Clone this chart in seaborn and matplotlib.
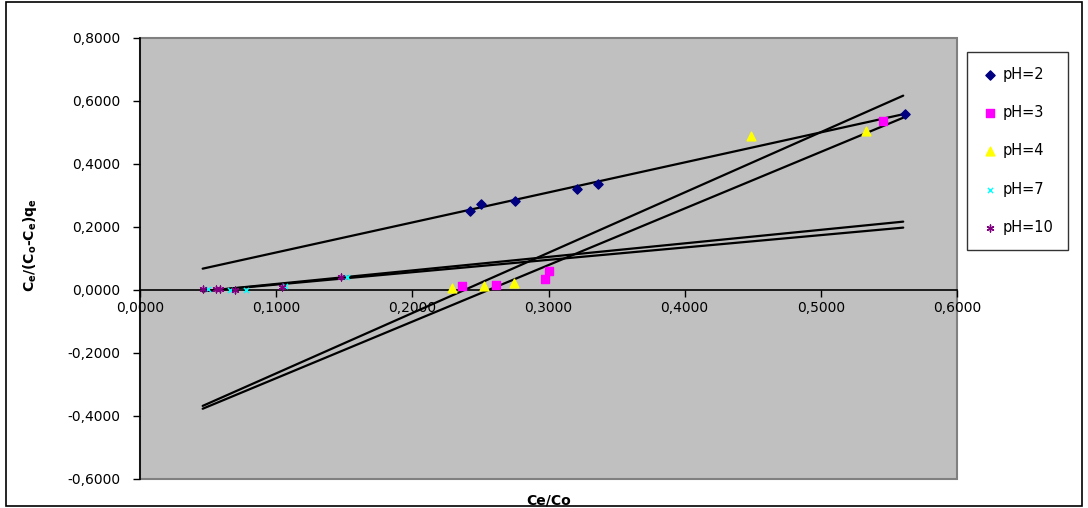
import numpy as np
import pandas as pd
import seaborn as sns
import matplotlib.pyplot as plt
from matplotlib.patches import Rectangle
from matplotlib.ticker import FuncFormatter, MultipleLocator

ph2_x = [0.2426, 0.2507, 0.2754, 0.3206, 0.3360, 0.5615]
ph2_y = [0.2508, 0.2730, 0.2825, 0.3206, 0.3365, 0.5597]
ph3_x = [0.2367, 0.2612, 0.2977, 0.3000, 0.5460]
ph3_y = [0.0127, 0.0170, 0.0340, 0.0610, 0.5365]
ph4_x = [0.2292, 0.2526, 0.2749, 0.4490, 0.5329]
ph4_y = [0.0074, 0.0127, 0.0210, 0.4890, 0.5058]
ph7_x = [0.0500, 0.0660, 0.0780, 0.1064, 0.1520]
ph7_y = [0.0020, 0.0010, 0.0000, 0.0137, 0.0420]
ph10_x = [0.0460, 0.0560, 0.0590, 0.0697, 0.1040, 0.1477]
ph10_y = [0.0030, 0.0030, 0.0030, 0.0000, 0.0100, 0.0420]

# trend line end points (x range shared by all fits)
trend_x = [0.046, 0.5605]
trend_ph2 = [0.0677, 0.558]
trend_ph3 = [-0.377, 0.547]
trend_ph4 = [-0.368, 0.617]
trend_ph7 = [-0.004, 0.217]
trend_ph10 = [-0.004, 0.198]

labels = ["pH=2", "pH=3", "pH=4", "pH=7", "pH=10"]

sns.set_theme(style="white")
plt.rcParams['font.family'] = ['DejaVu Sans']
plt.rcParams['mathtext.default'] = 'bf'
plt.rcParams['text.color'] = 'black'
plt.rcParams['axes.labelcolor'] = 'black'

fig = plt.figure(figsize=(10.88, 5.08), dpi=100)
ax = fig.add_axes([0.1287, 0.0571, 0.7509, 0.8681])

styles = [
    (ph2_x, ph2_y, "#000080", "D", 22),
    (ph3_x, ph3_y, "#FF00FF", "s", 26),
    (ph4_x, ph4_y, "#FFFF00", "^", 40),
    (ph7_x, ph7_y, "#00FFFF", "x", 14),
    (ph10_x, ph10_y, "#800080", (6, 2, 0), 24),
]
for (xs, ys, col, mk, sz), lab in zip(styles, labels):
    df = pd.DataFrame({"x": xs, "y": ys})
    sns.scatterplot(data=df, x="x", y="y", ax=ax, color=col, marker=mk, s=sz,
                    edgecolor=col, linewidth=1.0, label=lab, zorder=4)

for ty in [trend_ph2, trend_ph3, trend_ph4, trend_ph7, trend_ph10]:
    ax.plot(trend_x, ty, color="black", linewidth=1.6, zorder=3)

ax.set_xlim(0, 0.6)
ax.set_ylim(-0.6, 0.8)
ax.set_facecolor("#C0C0C0")
ax.patch.set_edgecolor("#808080")
ax.patch.set_linewidth(1.5)

for s in ["top", "right"]:
    ax.spines[s].set_visible(False)
ax.spines["left"].set_color("black")
ax.spines["left"].set_linewidth(1.2)
ax.spines["bottom"].set_position(("data", 0))
ax.spines["bottom"].set_color("black")
ax.spines["bottom"].set_linewidth(1.2)

fmt = FuncFormatter(lambda v, p: f"{v:.4f}".replace(".", ",").replace("-0,0000", "0,0000"))
ax.xaxis.set_major_locator(MultipleLocator(0.1))
ax.yaxis.set_major_locator(MultipleLocator(0.2))
ax.xaxis.set_major_formatter(fmt)
ax.yaxis.set_major_formatter(fmt)
ax.tick_params(axis="both", direction="out", length=5, width=1, color="black",
               labelsize=10, labelcolor="black", bottom=True, left=True)
ax.tick_params(axis="y", pad=9)
ax.tick_params(axis="x", pad=3)

ax.set_xlabel("Ce/Co", fontsize=10, fontweight="bold", color="black")
ax.set_ylabel(r"C$_e$/(C$_o$-C$_e$)q$_e$", fontsize=10, fontweight="bold", color="black")
ax.xaxis.set_label_coords(0.5, -0.032)
ax.yaxis.set_label_coords(-0.1236, 0.53)

leg = ax.legend(loc="upper left", bbox_to_anchor=(966.5 / 1088, 456 / 508),
                bbox_transform=fig.transFigure, frameon=True, fancybox=False,
                fontsize=10.5, labelspacing=1.6, handletextpad=0.3,
                borderpad=1.0, handlelength=1.2, borderaxespad=0)
leg.get_frame().set_edgecolor("black")
leg.get_frame().set_linewidth(1.0)
for t in leg.get_texts():
    t.set_color("black")

# outer chart frame
fig.patches.append(Rectangle((6 / 1088, 2 / 508), 1076 / 1088, 504 / 508,
                             transform=fig.transFigure, fill=False,
                             edgecolor="black", linewidth=1.2))

fig.savefig("out.png", dpi=100)
